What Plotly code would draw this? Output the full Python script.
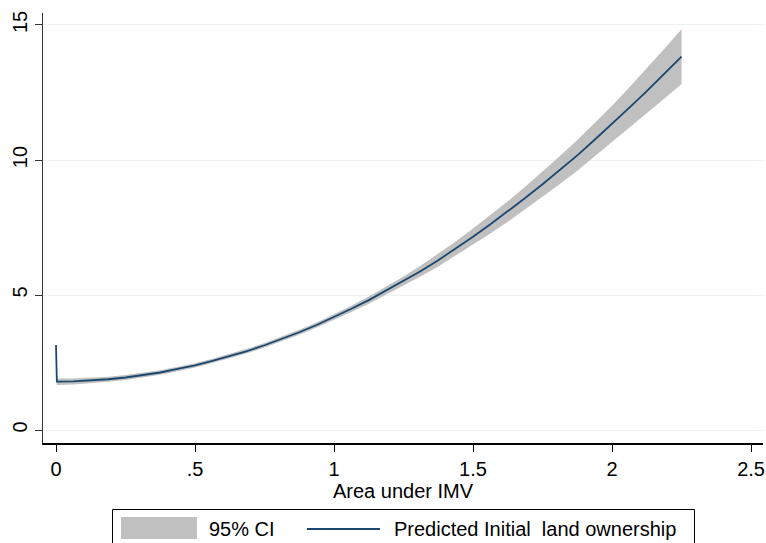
import plotly.graph_objects as go

# Data
area = [0.0, 0.003, 0.0625, 0.125, 0.1875, 0.25, 0.3125, 0.375, 0.4375, 0.5,
        0.5625, 0.625, 0.6875, 0.75, 0.8125, 0.875, 0.9375, 1.0, 1.0625, 1.125,
        1.1875, 1.25, 1.3125, 1.375, 1.4375, 1.5, 1.5625, 1.625, 1.6875, 1.75,
        1.8125, 1.875, 1.9375, 2.0, 2.0625, 2.125, 2.1875, 2.25]
predicted = [3.15, 1.79, 1.80, 1.83, 1.88, 1.945, 2.03, 2.13, 2.26, 2.395,
             2.56, 2.73, 2.925, 3.14, 3.37, 3.62, 3.89, 4.18, 4.49, 4.81,
             5.16, 5.515, 5.89, 6.29, 6.72, 7.16, 7.62, 8.09, 8.59, 9.10,
             9.63, 10.17, 10.75, 11.33, 11.94, 12.55, 13.19, 13.83]
ci_upper = [3.25, 1.91, 1.91, 1.93, 1.975, 2.035, 2.115, 2.21, 2.34, 2.475,
            2.64, 2.81, 3.005, 3.22, 3.455, 3.71, 3.985, 4.28, 4.605, 4.94,
            5.31, 5.685, 6.09, 6.52, 6.98, 7.46, 7.96, 8.47, 9.01, 9.57,
            10.15, 10.74, 11.37, 12.01, 12.69, 13.38, 14.11, 14.84]
ci_lower = [3.05, 1.67, 1.69, 1.73, 1.785, 1.855, 1.945, 2.05, 2.18, 2.315,
            2.48, 2.65, 2.845, 3.06, 3.285, 3.53, 3.795, 4.08, 4.375, 4.68,
            5.01, 5.345, 5.69, 6.06, 6.46, 6.86, 7.28, 7.71, 8.17, 8.63,
            9.11, 9.60, 10.13, 10.65, 11.19, 11.72, 12.27, 12.81]

x_ticks = [0, 0.5, 1, 1.5, 2, 2.5]
x_tick_labels = ["0", ".5", "1", "1.5", "2", "2.5"]
y_ticks = [0, 5, 10, 15]
y_tick_labels = ["0", "5", "10", "15"]

LINE_COLOR = "#1a476f"
CI_COLOR = "#c0c0c0"
FONT = "Liberation Sans, Arial, sans-serif"

fig = go.Figure()
fig.add_trace(go.Scatter(x=area, y=ci_lower, mode="lines", line=dict(width=0),
                         hoverinfo="skip", showlegend=False))
fig.add_trace(go.Scatter(x=area, y=ci_upper, mode="lines", line=dict(width=0),
                         fill="tonexty", fillcolor=CI_COLOR, name="95% CI",
                         showlegend=False))
fig.add_trace(go.Scatter(x=area, y=predicted, mode="lines",
                         line=dict(color=LINE_COLOR, width=1.8),
                         name="Predicted Initial  land ownership", showlegend=False))

W, H = 766, 543
L, R, T, B = 43, 3, 13, 100
pw, ph = W - L - R, H - T - B

def px(xp):
    return (xp - L) / pw

def py(yp):
    return (H - B - yp) / ph

# Manual legend (Stata-style box)
shapes = [
    dict(type="rect", xref="paper", yref="paper", x0=px(112.5), x1=px(694.5),
         y0=py(560), y1=py(509.5), line=dict(color="black", width=1),
         fillcolor="white", layer="above"),
    dict(type="rect", xref="paper", yref="paper", x0=px(121), x1=px(197),
         y0=py(539), y1=py(517), line=dict(width=0), fillcolor=CI_COLOR,
         layer="above"),
    dict(type="line", xref="paper", yref="paper", x0=px(307), x1=px(380),
         y0=py(529), y1=py(529), line=dict(color=LINE_COLOR, width=1.8),
         layer="above"),
]
annotations = [
    dict(xref="paper", yref="paper", x=px(207), y=py(529), text="95% CI",
         showarrow=False, xanchor="left", yanchor="middle",
         font=dict(family=FONT, size=20, color="black")),
    dict(xref="paper", yref="paper", x=px(392), y=py(529),
         text="Predicted Initial  land ownership",
         showarrow=False, xanchor="left", yanchor="middle",
         font=dict(family=FONT, size=20, color="black")),
]

fig.update_layout(
    width=W, height=H,
    margin=dict(l=L, r=R, t=T, b=B, autoexpand=False),
    paper_bgcolor="white", plot_bgcolor="white",
    font=dict(family=FONT, size=20, color="black"),
    showlegend=False,
    shapes=shapes,
    annotations=annotations,
    xaxis=dict(
        range=[-0.0468, 2.543],
        automargin=False,
        tickmode="array", tickvals=x_ticks, ticktext=x_tick_labels,
        ticks="outside", ticklen=7, tickcolor="black", tickwidth=1,
        showline=True, linecolor="black", linewidth=1.5,
        showgrid=False, zeroline=False,
        title=dict(text="Area under IMV", standoff=2,
                   font=dict(family=FONT, size=20)),
        tickfont=dict(family=FONT, size=20),
    ),
    yaxis=dict(
        range=[-0.481, 15.444],
        automargin=False,
        tickmode="array", tickvals=y_ticks, ticktext=y_tick_labels,
        tickangle=-90,
        ticks="outside", ticklen=7, tickcolor="#333333", tickwidth=1,
        showline=True, linecolor="#333333", linewidth=1.2,
        showgrid=True, gridcolor="#eaf2f3", gridwidth=1,
        zeroline=False,
        tickfont=dict(family=FONT, size=20),
    ),
)

fig.write_html("out.html",
               config={"displayModeBar": False},
               post_script="document.body.style.margin='0px';"
                           "document.body.style.overflow='hidden';")
